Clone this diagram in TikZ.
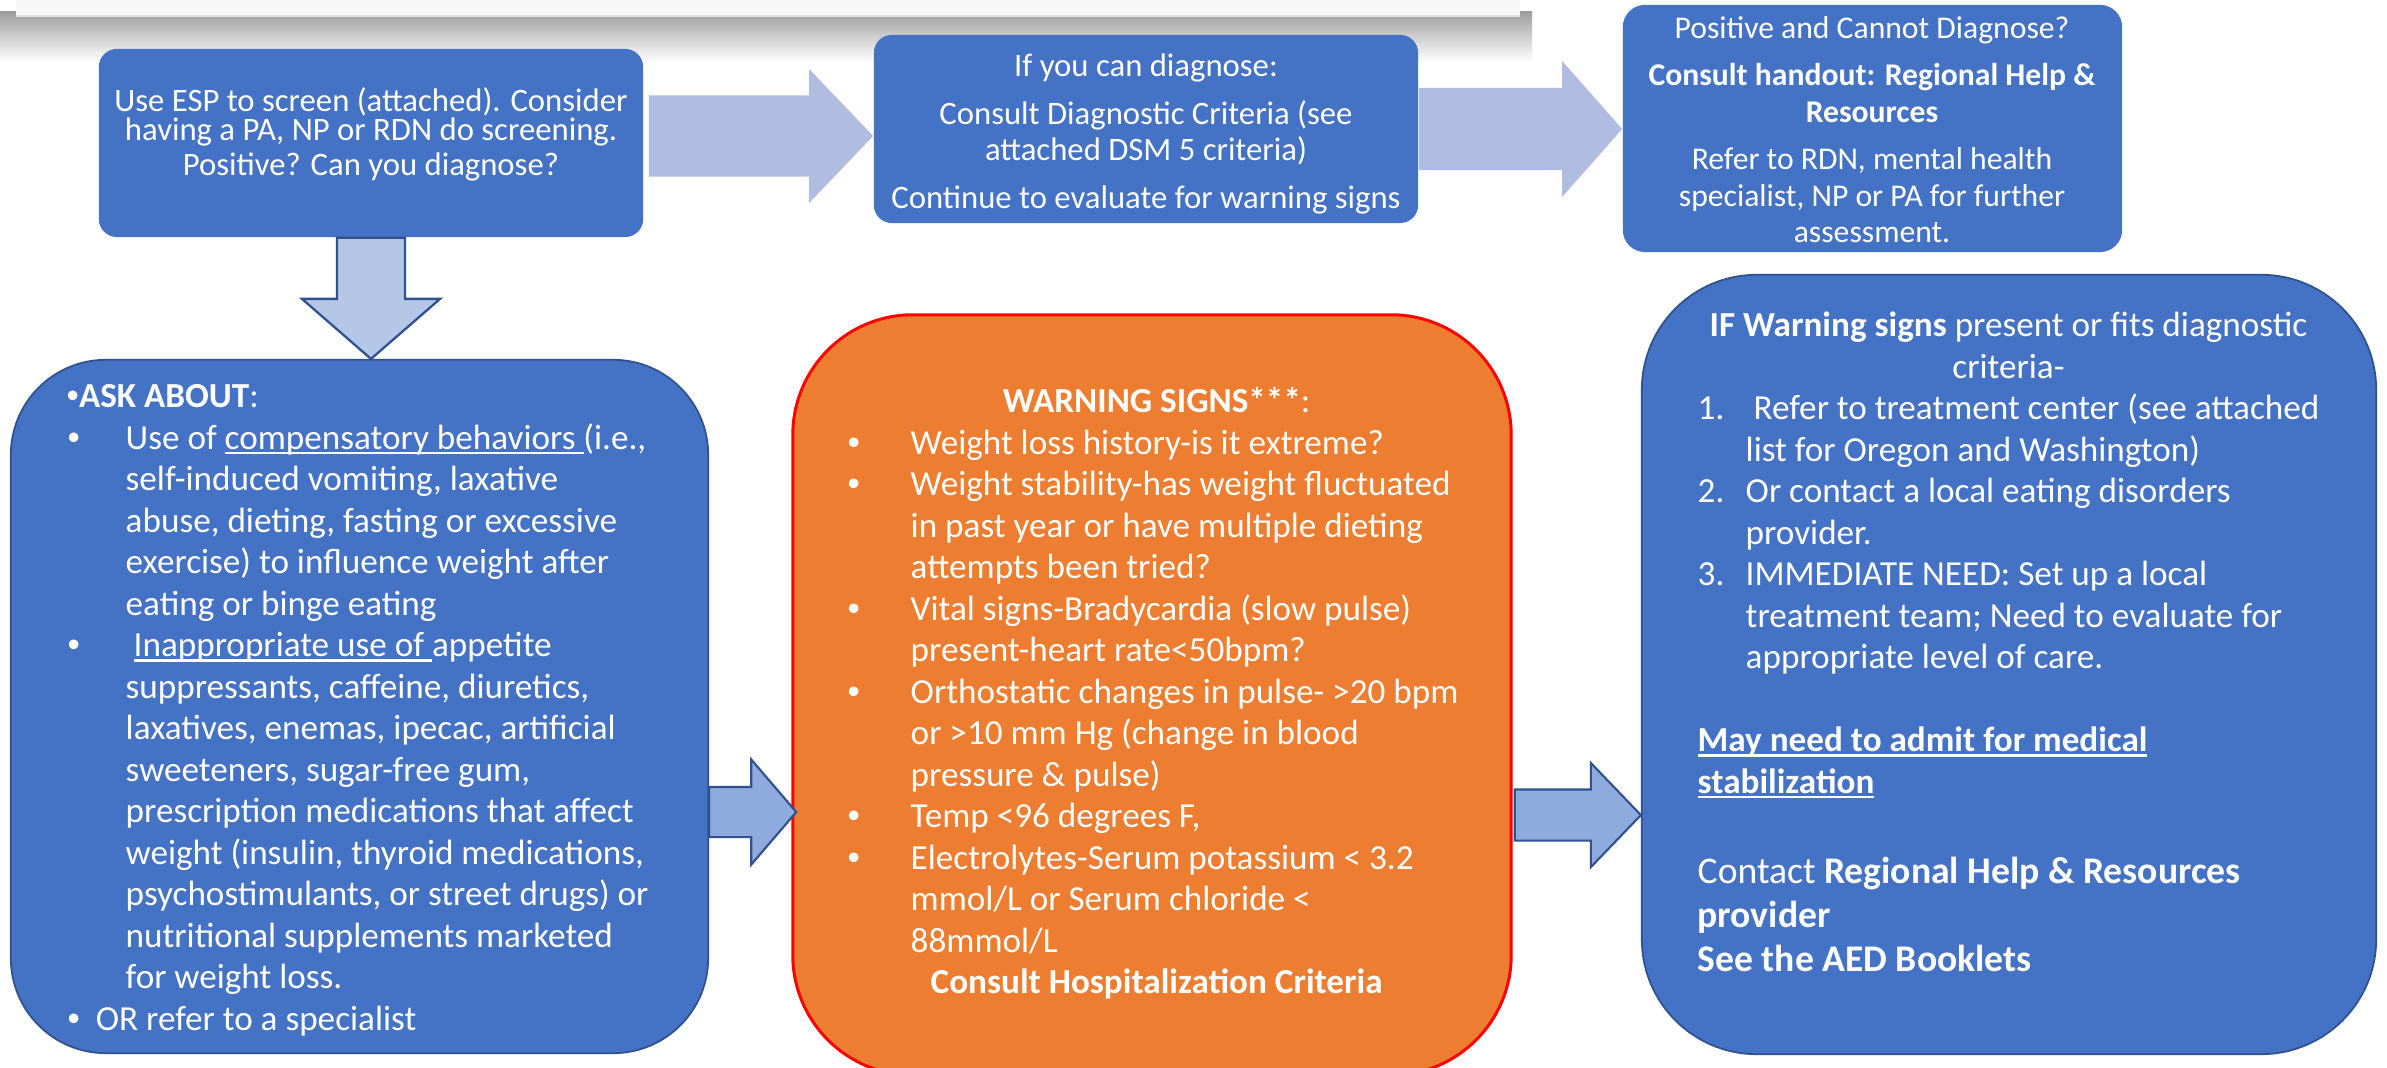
\documentclass[tikz,border=0pt]{standalone}
\usepackage{fontspec}
\setmainfont{Carlito}
\newfontfamily\bulfont{Liberation Sans}
\usetikzlibrary{positioning,calc}
\definecolor{box-blue}{HTML}{4472C4}
\definecolor{edge-blue}{HTML}{2F528F}
\definecolor{box-orange}{HTML}{ED7D31}
\definecolor{arrow-light}{RGB}{176,189,224}
\definecolor{arrow-pale}{HTML}{B4C7E7}
\definecolor{arrow-mid}{HTML}{8FAADC}
\newcommand{\smallsz}{\fontsize{9.3pt}{10.5pt}\selectfont}
\newcommand{\bodysz}{\fontsize{10pt}{11.8pt}\selectfont}
\newcommand{\bigsz}{\fontsize{10.7pt}{12.5pt}\selectfont}
\newcommand{\bul}{{\bulfont\textbullet}}
\newcommand{\uln}[1]{\setbox0\hbox{#1}\rlap{\rule[-0.13em]{\wd0}{0.06em}}\box0}
\newcommand{\ctrline}[1]{\hbox to 5.4cm{\hss#1\hss}}
\newcommand{\harrow}[6]{%
  \draw[#1] let \p1=(#2), \p2=(#3) in
    (\x1,\y1+#4) -- (\x2-#6,\y1+#4) -- (\x2-#6,\y1+#5) -- (\x2,\y1)
    -- (\x2-#6,\y1-#5) -- (\x2-#6,\y1-#4) -- (\x1,\y1-#4) -- cycle;}
\newcommand{\varrow}[6]{%
  \draw[#1] let \p1=(#2), \p2=(#3) in
    (\x1-#4,\y1) -- (\x1-#4,\y2+#6) -- (\x1-#5,\y2+#6) -- (\x1,\y2)
    -- (\x1+#5,\y2+#6) -- (\x1+#4,\y2+#6) -- (\x1+#4,\y1) -- cycle;}
\tikzset{
  topbox/.style={fill=box-blue, inner sep=0pt, rounded corners=0.18cm},
  bigbox/.style={draw=edge-blue, line width=0.5pt, fill=box-blue, inner sep=0pt},
  warnbox/.style={draw=red, line width=0.85pt, fill=box-orange, inner sep=0pt, rounded corners=1.2cm},
  toparrow/.style={fill=arrow-light, draw=none},
  downarrow/.style={fill=arrow-pale, draw=edge-blue, line width=0.65pt},
  sidearrow/.style={fill=arrow-mid, draw=edge-blue, line width=0.6pt},
  txt/.style={text=white, inner sep=0pt}
}
\begin{document}
\begin{tikzpicture}[x=0.01cm,y=-0.01cm]
    \useasboundingbox (0,0) rectangle (2387,1068);
    \fill[white] (0,0) rectangle (2387,1068);

    \shade[top color=black!38, bottom color=white] (0,12) rectangle (1532,62);
    \fill[black!3] (16,0) rectangle (1520,16);
    \draw[black!12] (16,16) -- (1520,16);

    \node[topbox, minimum width=5.44cm, minimum height=1.88cm] (screen) at (371,143) {};
    \node[topbox, minimum width=5.44cm, minimum height=1.88cm] (diagnose) at (1146,129) {};
    \node[topbox, minimum width=4.99cm, minimum height=2.47cm, rounded corners=0.22cm] (refer) at (1872.5,128.5) {};
    \node[bigbox, minimum width=6.97cm, minimum height=6.93cm, rounded corners=0.95cm] (askabout) at (359.5,706.5) {};
    \node[warnbox, minimum width=7.18cm, minimum height=7.6cm] (warning) at (1152,695) {};
    \node[bigbox, minimum width=7.34cm, minimum height=7.79cm, rounded corners=1.15cm] (treatment) at (2009,664.5) {};

    \node[txt] (screentxt) at (371,134)
        {\fontsize{9.3pt}{8.25pt}\selectfont\vbox{\lineskiplimit=-1cm\baselineskip=8.25pt
        \ctrline{Use ESP to screen (attached). Consider}\ctrline{having a PA, NP or RDN do screening.}\vskip1.7pt
        \ctrline{Positive? Can you diagnose?}}};
    \node[txt, align=center, font=\smallsz] (diagnosetxt) at (1146,134)
        {If you can diagnose:\\[3pt]Consult Diagnostic Criteria (see\\attached DSM 5 criteria)\\[3pt]Continue to evaluate for warning signs};
    \node[txt, align=center, font=\fontsize{9pt}{10.4pt}\selectfont] (refertxt) at (1872,130)
        {Positive and Cannot Diagnose?\\[3pt]\textbf{Consult handout: Regional Help \&}\\\textbf{Resources}\\[3pt]Refer to RDN, mental health\\specialist, NP or PA for further\\assessment.};

    \node[txt, anchor=base west] (asktxt) at (66,408) {\bodysz\begin{tabular}[t]{@{}p{0.59cm}@{}l@{}}
        \multicolumn{2}{@{}l@{}}{\bul\textbf{ASK ABOUT}:}\\
        \hspace{0.01cm}\bul & Use of \uln{compensatory behaviors }(i.e.,\\
        & self-induced vomiting, laxative\\
        & abuse, dieting, fasting or excessive\\
        & exercise) to influence weight after\\
        & eating or binge eating\\
        \hspace{0.01cm}\bul & \ \uln{Inappropriate use of }appetite\\
        & suppressants, caffeine, diuretics,\\
        & laxatives, enemas, ipecac, artificial\\
        & sweeteners, sugar-free gum,\\
        & prescription medications that affect\\
        & weight (insulin, thyroid medications,\\
        & psychostimulants, or street drugs) or\\
        & nutritional supplements marketed\\
        & for weight loss.\\
        \multicolumn{2}{@{}l@{}}{\hspace{0.01cm}\bul\ \ OR refer to a specialist}
    \end{tabular}};

    \node[txt, anchor=base west] (warntxt) at (854,413) {\bodysz\begin{tabular}[t]{@{}p{0.56cm}@{}l@{}}
        \multicolumn{2}{@{}c@{}}{\textbf{WARNING SIGNS***}:}\\
        \hspace{-0.07cm}\bul & Weight loss history-is it extreme?\\
        \hspace{-0.07cm}\bul & Weight stability-has weight fluctuated\\
        & in past year or have multiple dieting\\
        & attempts been tried?\\
        \hspace{-0.07cm}\bul & Vital signs-Bradycardia (slow pulse)\\
        & present-heart rate<50bpm?\\
        \hspace{-0.07cm}\bul & Orthostatic changes in pulse- >20 bpm\\
        & or >10 mm Hg (change in blood\\
        & pressure \& pulse)\\
        \hspace{-0.07cm}\bul & Temp <96 degrees F,\\
        \hspace{-0.07cm}\bul & Electrolytes-Serum potassium < 3.2\\
        & mmol/L or Serum chloride <\\
        & 88mmol/L\\
        \multicolumn{2}{@{}c@{}}{\textbf{Consult Hospitalization Criteria}}
    \end{tabular}};

    \node[txt, anchor=base west] (treattxt) at (1697,337) {\bodysz\begin{tabular}[t]{@{}p{0.48cm}@{}l@{}}
        \multicolumn{2}{@{}c@{}}{\textbf{IF Warning signs} present or fits diagnostic}\\
        \multicolumn{2}{@{}c@{}}{criteria-}\\
        1. & \ Refer to treatment center (see attached\\
        & list for Oregon and Washington)\\
        2. & Or contact a local eating disorders\\
        & provider.\\
        3. & IMMEDIATE NEED: Set up a local\\
        & treatment team; Need to evaluate for\\
        & appropriate level of care.\\
        \\
        \multicolumn{2}{@{}l@{}}{\uln{\textbf{May need to admit for medical}}}\\
        \multicolumn{2}{@{}l@{}}{\uln{\textbf{stabilization}}}\\[2pt]
        \\
        \multicolumn{2}{@{}l@{}}{\bigsz Contact \textbf{Regional Help \& Resources}}\\[0.7pt]
        \multicolumn{2}{@{}l@{}}{\bigsz\textbf{provider}}\\[0.7pt]
        \multicolumn{2}{@{}l@{}}{\bigsz\textbf{See the AED Booklets}}
    \end{tabular}};

    \harrow{toparrow}{[xshift=0.05cm,yshift=0.07cm]screen.east}{diagnose.west}{0.405cm}{0.67cm}{0.64cm}
    \harrow{toparrow}{diagnose.east}{refer.west}{0.41cm}{0.68cm}{0.6cm}
    \varrow{downarrow}{screen.south}{askabout.north}{0.34cm}{0.69cm}{0.6cm}
    \harrow{sidearrow}{[yshift=-1.055cm]askabout.east}{[xshift=0.05cm]warning.west}{0.25cm}{0.525cm}{0.45cm}
    \harrow{sidearrow}{[xshift=0.02cm,yshift=-1.2cm]warning.east}{treatment.west}{0.255cm}{0.52cm}{0.5cm}
\end{tikzpicture}
\end{document}
